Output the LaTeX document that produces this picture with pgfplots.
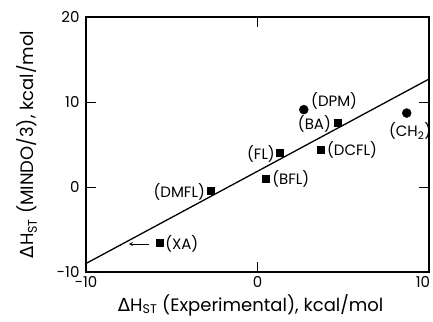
\documentclass[border=0pt]{standalone}
\usepackage{fontspec}
\setmainfont{Poppins}
\newfontfamily\dv{DejaVu Sans}
\usepackage{pgfplots}
\pgfplotsset{compat=1.18}
\newcommand{\dHst}{{\dv Δ}H\textsubscript{ST}}
\begin{document}
\begin{tikzpicture}
\begin{axis}[name=ax, scale only axis, width=343pt, height=255pt,
  xmin=-10, xmax=10, ymin=-10, ymax=20,
  xtick={-10,0}, ytick={-10,0,10,20},
  extra x ticks={10},
  extra x tick style={xticklabel style={xshift=-6pt}},
  tick align=inside, major tick length=10pt,
  axis line style={line width=1.6pt},
  tick style={line width=1pt, black},
  /pgf/number format/assume math mode=true,
  xticklabel style={font=\fontsize{15}{15}\selectfont, yshift=-1pt},
  yticklabel style={font=\fontsize{15}{15}\selectfont, xshift=-3pt},
  clip=false,
  xlabel={\dHst\ (Experimental), kcal/mol},
  ylabel={\dHst\ (MINDO/3), kcal/mol},
  every axis x label/.style={at={(axis description cs:0.48,-0.129)}, anchor=center, font=\fontsize{18}{18}\selectfont},
  every axis y label/.style={at={(axis description cs:-0.172,0.5)}, rotate=90, anchor=center, font=\fontsize{18}{18}\selectfont},
]
\addplot[line width=1.3pt, no marks] coordinates {(-10,-9.0) (10,12.7)};
\addplot[only marks, mark=square*, mark size=3.5pt] coordinates {(4.7,7.6) (1.3,4.0) (3.7,4.35) (0.45,1.0) (-2.7,-0.4) (-5.7,-6.6)};
\addplot[only marks, mark=*, mark size=4.5pt] coordinates {(2.7,9.1) (8.7,8.7)};
\addplot[-stealth, line width=0.8pt, no marks] coordinates {(-6.3,-6.7) (-7.5,-6.7)};
\begin{scope}[every node/.style={font=\fontsize{15}{15}\selectfont, inner sep=0pt}]
\node[anchor=west] at (axis cs:3.12,10.12) {(DPM)};
\node[anchor=east] at (axis cs:4.29,7.41) {(BA)};
\node[anchor=center] at (axis cs:8.9,6.59) {(CH\textsubscript{2})};
\node[anchor=west] at (axis cs:4.05,4.35) {(DCFL)};
\node[anchor=east] at (axis cs:1.02,3.88) {(FL)};
\node[anchor=west] at (axis cs:0.85,0.94) {(BFL)};
\node[anchor=east] at (axis cs:-3.06,-0.59) {(DMFL)};
\node[anchor=west] at (axis cs:-5.39,-6.7) {(XA)};
\end{scope}
\end{axis}
\pgfresetboundingbox
\path[use as bounding box] ([xshift=-86pt,yshift=-49pt]ax.south west) rectangle ([xshift=4pt,yshift=17pt]ax.north east);
\end{tikzpicture}
\end{document}
